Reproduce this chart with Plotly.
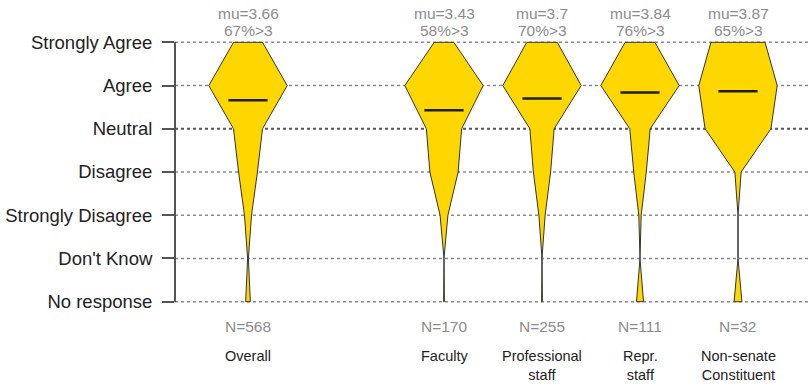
import plotly.graph_objects as go

# Response scale, top to bottom, with the numeric value used for each row
levels = ["Strongly Agree", "Agree", "Neutral", "Disagree",
          "Strongly Disagree", "Don't Know", "No response"]
level_vals = [5, 4, 3, 2, 1, 0, -1]

# Groups and their horizontal slots (slot 1 is left empty as a spacer)
groups = ["Overall", "Faculty", "Professional<br>staff", "Repr.<br>staff",
          "Non-senate<br>Constituent"]
slots = [0, 2, 3, 4, 5]
n_resp = [568, 170, 255, 111, 32]
mu = [3.66, 3.43, 3.7, 3.84, 3.87]
pct_agree = [67, 58, 70, 76, 65]

# Relative response frequency per level (modal level = 100)
overall = [37, 100, 37, 24, 9, 1, 6]
faculty = [25, 100, 45, 36, 10, 0, 1]
professional = [39, 100, 31, 22, 8, 0, 1]
repr_staff = [38, 100, 26, 16, 3, 0, 9]
non_senate = [69, 100, 84, 8, 0, 0, 10]
shares = [overall, faculty, professional, repr_staff, non_senate]

HALF_MAX = 0.4   # half-width of the widest level, in slot units
FILL = "#FFD700"
FONT = "Liberation Sans"

# plot-area geometry in pixels (used to place text outside the axes)
W, H = 810, 385
M_L, M_R, M_T, M_B = 175, 2, 38, 79
plot_h = H - M_T - M_B


def paper_y(px):
    return (H - M_B - px) / plot_h


fig = go.Figure()

for slot, sh, m in zip(slots, shares, mu):
    peak = max(sh)
    hw = [HALF_MAX * s / peak for s in sh]
    xs = [slot + w for w in hw] + [slot - w for w in reversed(hw)]
    ys = level_vals + list(reversed(level_vals))
    fig.add_trace(go.Scatter(
        x=xs + [xs[0]], y=ys + [ys[0]], mode="lines", fill="toself",
        fillcolor=FILL, line=dict(color="#333333", width=1),
        hoverinfo="skip", showlegend=False))
    # mean marker
    fig.add_trace(go.Scatter(
        x=[slot - 0.2, slot + 0.2], y=[m, m], mode="lines",
        line=dict(color="#1e1e1e", width=2.5),
        hoverinfo="skip", showlegend=False))

# dotted guide lines, the neutral one drawn heavier
for v in level_vals:
    fig.add_shape(type="line", xref="paper", yref="y", x0=0, x1=1, y0=v, y1=v,
                  line=dict(color="#555555" if v == 3 else "#8a8a8a",
                            width=2 if v == 3 else 1.5, dash="dot"),
                  layer="below")

# vertical axis spanning only the response rows
fig.add_shape(type="line", xref="paper", yref="y", x0=0, x1=0,
              y0=min(level_vals), y1=max(level_vals),
              line=dict(color="#555555", width=2))

GRAY = dict(family=FONT, size=15.5, color="#8c8c8c")
ann = []
for slot, g, n, m, p in zip(slots, groups, n_resp, mu, pct_agree):
    ann.append(dict(x=slot, y=paper_y(14), xref="x", yref="paper",
                    yanchor="middle", text=f"mu={m:g}", showarrow=False,
                    font=GRAY))
    ann.append(dict(x=slot, y=paper_y(31), xref="x", yref="paper",
                    yanchor="middle", text=f"{p}%>3", showarrow=False,
                    font=GRAY))
    ann.append(dict(x=slot, y=paper_y(326), xref="x", yref="paper",
                    yanchor="middle", text=f"N={n}", showarrow=False,
                    font=GRAY))
    ann.append(dict(x=slot, y=paper_y(346), xref="x", yref="paper",
                    yanchor="top", text=g, showarrow=False,
                    font=dict(family=FONT, size=14.5, color="#222222")))

px_per_unit = 98
x_lo = -(248 - M_L) / px_per_unit
x_hi = x_lo + (W - M_L - M_R) / px_per_unit

fig.update_layout(
    width=W, height=H,
    margin=dict(l=M_L, r=M_R, t=M_T, b=M_B, pad=0),
    paper_bgcolor="white", plot_bgcolor="white",
    annotations=ann,
    xaxis=dict(range=[x_lo, x_hi], showgrid=False, zeroline=False,
               showticklabels=False, ticks="", showline=False),
    yaxis=dict(range=[-1.1, 5.1], tickvals=level_vals, ticktext=levels,
               showgrid=False, zeroline=False, showline=False,
               ticks="outside", ticklen=12, tickwidth=2,
               tickcolor="#555555", ticklabelstandoff=6,
               tickfont=dict(family=FONT, size=18.5, color="#222222")),
    font=dict(family=FONT),
)

fig.write_html("out.html")
